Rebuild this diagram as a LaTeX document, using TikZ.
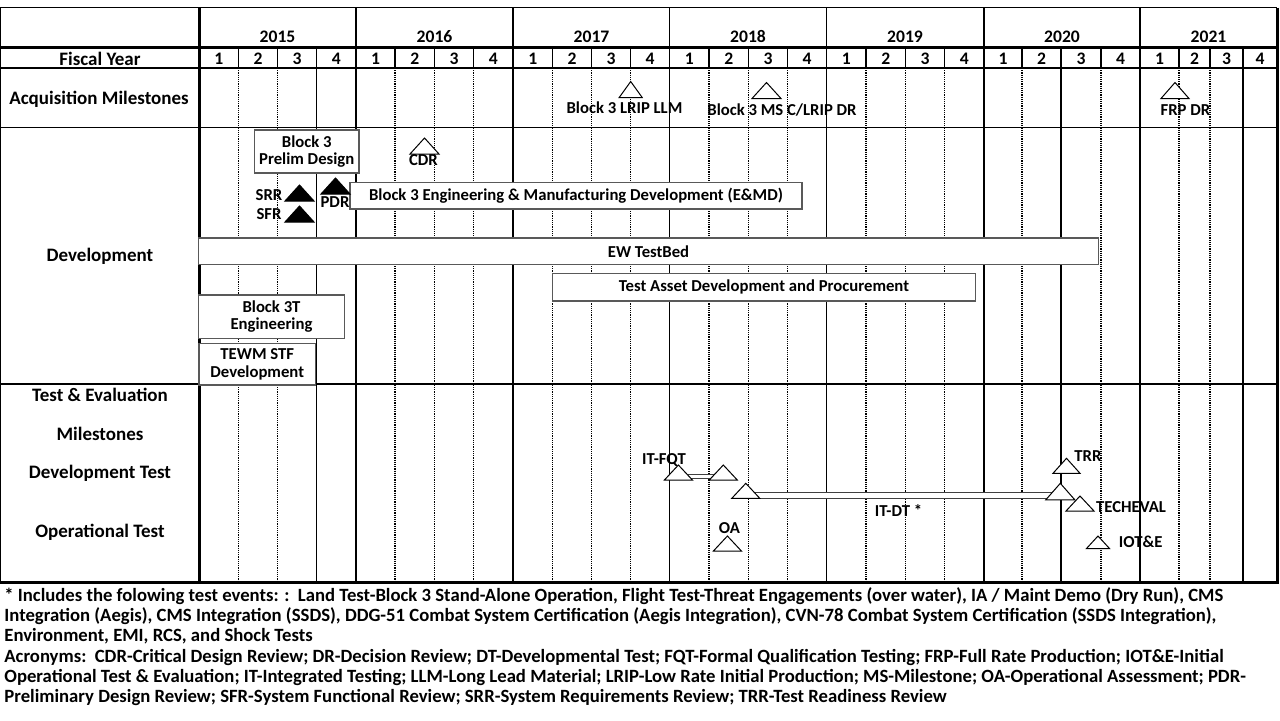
\documentclass[tikz,border=0pt]{standalone}
\usepackage{fontspec}
\setmainfont{Carlito}
\usetikzlibrary{positioning,calc}

\begin{document}
\begin{tikzpicture}[
  x=0.5pt, y=-0.5pt,
  font=\bfseries\fontsize{8.35}{8.6}\selectfont,
  hdr/.style={font=\bfseries\fontsize{8.8}{10}\selectfont, inner sep=0pt, anchor=base},
  rowlbl/.style={font=\bfseries\fontsize{9.5}{10.5}\selectfont, inner sep=0pt},
  notetxt/.style={anchor=base west, inner sep=0pt, font=\bfseries\fontsize{9.35}{10}\selectfont},
  thinrule/.style={line width=0.7pt},
  thickrule/.style={line width=1.5pt},
  qtrdot/.style={line width=0.55pt, dash pattern=on 0.55pt off 0.55pt},
  taskbox/.style={draw=black!65, fill=white, line width=0.9pt, inner sep=0pt, align=center},
  mslbl/.style={inner sep=0pt},
  testbar/.style={draw=black!75, fill=white, line width=0.6pt},
  pics/mstone/.style args={#1/#2}{code={\draw[line width=0.5pt, pic actions] (0,0) -- (-#1,#2) -- (#1,#2) -- cycle;}}
]
  \useasboundingbox (0,0) rectangle (1280,720);

  % grid
  \foreach \xq in {238.5,277.5,316.5,395,434.5,473.5,552.5,591.5,630.5,709,748.5,787.5,866,905.5,944.5,1022,1061,1101,1179,1210,1243}
    \draw[thinrule] (\xq,47) -- (\xq,68);
  \foreach \xq in {238.5,277.5,395,434.5,473.5,552.5,591.5,630.5,709,748.5,787.5,866,905.5,944.5,1022,1101,1179,1210}
    \draw[qtrdot] (\xq,68) -- (\xq,582.5);
  \foreach \xq in {316.5,1061,1243}
    \draw[thinrule] (\xq,68) -- (\xq,582.5);
  \foreach \xq in {356,513,669.5,826.5,984,1140}
    \draw[thinrule] (\xq,7.5) -- (\xq,582.5);
  \draw[thinrule] (0,7.5) -- (1277,7.5);
  \draw[thinrule] (0,68) -- (1277,68);
  \draw[thinrule] (0,127.5) -- (1277,127.5);
  \draw[thinrule] (0,384) -- (1277,384);
  \draw[thinrule] (0.7,7.5) -- (0.7,582.5);
  \draw[thickrule] (0,47) -- (1277,47);
  \draw[thickrule] (0,582.5) -- (1278.5,582.5);
  \draw[thickrule] (199,7.5) -- (199,582.5);
  \draw[thickrule] (1277.5,7.5) -- (1277.5,582.5);

  % header
  \foreach \yr/\xc in {2015/277.5,2016/434.5,2017/591.5,2018/748,2019/905,2020/1062,2021/1208.5}
    \node[hdr] (y\yr) at (\xc,42.5) {\yr};
  \foreach \xa/\xb/\qn [count=\i] in {199/238.5/1,238.5/277.5/2,277.5/316.5/3,316.5/356/4,356/395/1,395/434.5/2,434.5/473.5/3,473.5/513/4,513/552.5/1,552.5/591.5/2,591.5/630.5/3,630.5/669.5/4,669.5/709/1,709/748.5/2,748.5/787.5/3,787.5/826.5/4,826.5/866/1,866/905.5/2,905.5/944.5/3,944.5/984/4,984/1022/1,1022/1061/2,1061/1101/3,1101/1140/4,1140/1179/1,1179/1210/2,1210/1243/3,1243/1277/4}
    \node[hdr] (q\i) at ({(\xa+\xb)/2},64) {\qn};

  % row labels
  \node[rowlbl] (fylbl) at (100,58.5) {Fiscal Year};
  \node[rowlbl] (acqlbl) at (99,99) {Acquisition Milestones};
  \node[rowlbl] (devlbl) at (100,256) {Development};
  \node[rowlbl] (telbl) at (100,395) {Test \& Evaluation};
  \node[rowlbl] (mslbl) at (100,434) {Milestones};
  \node[rowlbl] (dtlbl) at (100,473) {Development Test};
  \node[rowlbl] (otlbl) at (100,532) {Operational Test};

  % acquisition milestones
  \coordinate (lrip) at (630.7,81.5);
  \coordinate (msc) at (766.5,82.5);
  \coordinate (frp) at (1175,82.5);
  \pic[fill=white] at (lrip) {mstone=11.5/16};
  \pic[fill=white] at (msc) {mstone=14.5/16};
  \pic[fill=white] at (frp) {mstone=14/16};
  \node[mslbl] (lriplbl) at (624.5,107.5) {Block 3 LRIP LLM};
  \node[mslbl] (msclbl) at (782,110.5) {Block 3 MS C/LRIP DR};
  \node[mslbl] (frplbl) at (1185.5,110) {FRP DR};

  % development
  \node[taskbox, minimum width=52.25pt, minimum height=21.5pt] (prelim) at (306.75,151.5) {Block 3\\Prelim Design};
  \node[taskbox, minimum width=226pt, minimum height=13.25pt] (emd) at (576,195.75) {Block 3 Engineering \& Manufacturing Development (E\&MD)};
  \node[taskbox, minimum width=450pt, minimum height=13.25pt] (ewtb) at (648.5,251.25) {EW TestBed};
  \node[taskbox, minimum width=211.5pt, minimum height=13.75pt] (tasset) at (764,287.25) {Test Asset Development and Procurement};
  \node[taskbox, minimum width=73pt, minimum height=21.75pt] (blk3t) at (271.5,316.75) {Block 3T\\Engineering};
  \node[taskbox, minimum width=58.25pt, minimum height=20.75pt] (tewm) at (257.25,364.25) {TEWM STF\\Development};

  \coordinate (cdr) at (424.5,138);
  \coordinate (srr) at (299.5,185);
  \coordinate (sfr) at (299.5,206);
  \coordinate (pdr) at (335.5,178);
  \pic[fill=white] at (cdr) {mstone=14.5/16};
  \pic[fill=black] at (srr) {mstone=14.5/16};
  \pic[fill=black] at (sfr) {mstone=14.5/16};
  \pic[fill=black] at (pdr) {mstone=14.5/16};
  \node[mslbl] (cdrlbl) at (423.5,160.5) {CDR};
  \node[mslbl] (srrlbl) at (269,195) {SRR};
  \node[mslbl] (sfrlbl) at (269,214.5) {SFR};
  \node[mslbl] (pdrlbl) at (335,202.5) {PDR};

  % test and evaluation
  \coordinate (fqt1) at (678.4,465);
  \coordinate (fqt2) at (723.3,465);
  \coordinate (dt1) at (745.8,483.3);
  \coordinate (dt2) at (1060.3,483.3);
  \coordinate (trr) at (1066.5,458.3);
  \coordinate (tchv) at (1080,496);
  \coordinate (oa) at (727.4,536);
  \coordinate (iote) at (1098,536);
  \draw[testbar] ($(fqt1)+(0,9.3)$) rectangle ($(fqt2)+(0,13.3)$);
  \draw[testbar] ($(dt1)+(0,9)$) rectangle ($(dt2)+(0,15)$);
  \pic[fill=white] at (fqt1) {mstone=14/15};
  \pic[fill=white] at (fqt2) {mstone=14/15};
  \pic[fill=white] at (dt1) {mstone=14/15};
  \pic[fill=white] at (trr) {mstone=13.5/15};
  \pic[fill=white] at (dt2) {mstone=14.5/16.5};
  \pic[fill=white] at (tchv) {mstone=14/15};
  \pic[fill=white] at (oa) {mstone=14/15};
  \pic[fill=white] at (iote) {mstone=11.5/12.5};
  \node[mslbl] (fqtlbl) at (664,460) {IT-FQT};
  \node[mslbl] (trrlbl) at (1088,456) {TRR};
  \node[mslbl] (tchvlbl) at (1131,507) {TECHEVAL};
  \node[mslbl] (dtlbl2) at (898.5,510.5) {IT-DT *};
  \node[mslbl] (oalbl) at (729.5,528) {OA};
  \node[mslbl] (iotelbl) at (1140.7,542) {IOT\&E};

  % notes
  \node[notetxt] (note1) at (4,601.5) {* Includes the folowing test events: :\ \ Land Test-Block 3 Stand-Alone Operation, Flight Test-Threat Engagements (over water), IA / Maint Demo (Dry Run), CMS};
  \node[notetxt] (note2) at (4,621.5) {Integration (Aegis), CMS Integration (SSDS), DDG-51 Combat System Certification (Aegis Integration), CVN-78 Combat System Certification (SSDS Integration),};
  \node[notetxt] (note3) at (4,641.5) {Environment, EMI, RCS, and Shock Tests};
  \node[notetxt] (acro1) at (4,662) {Acronyms:\ \ CDR-Critical Design Review; DR-Decision Review; DT-Developmental Test; FQT-Formal Qualification Testing; FRP-Full Rate Production; IOT\&E-Initial};
  \node[notetxt] (acro2) at (4,682) {Operational Test \& Evaluation; IT-Integrated Testing; LLM-Long Lead Material; LRIP-Low Rate Initial Production; MS-Milestone; OA-Operational Assessment; PDR-};
  \node[notetxt] (acro3) at (4,702) {Preliminary Design Review; SFR-System Functional Review; SRR-System Requirements Review; TRR-Test Readiness Review};
\end{tikzpicture}
\end{document}
